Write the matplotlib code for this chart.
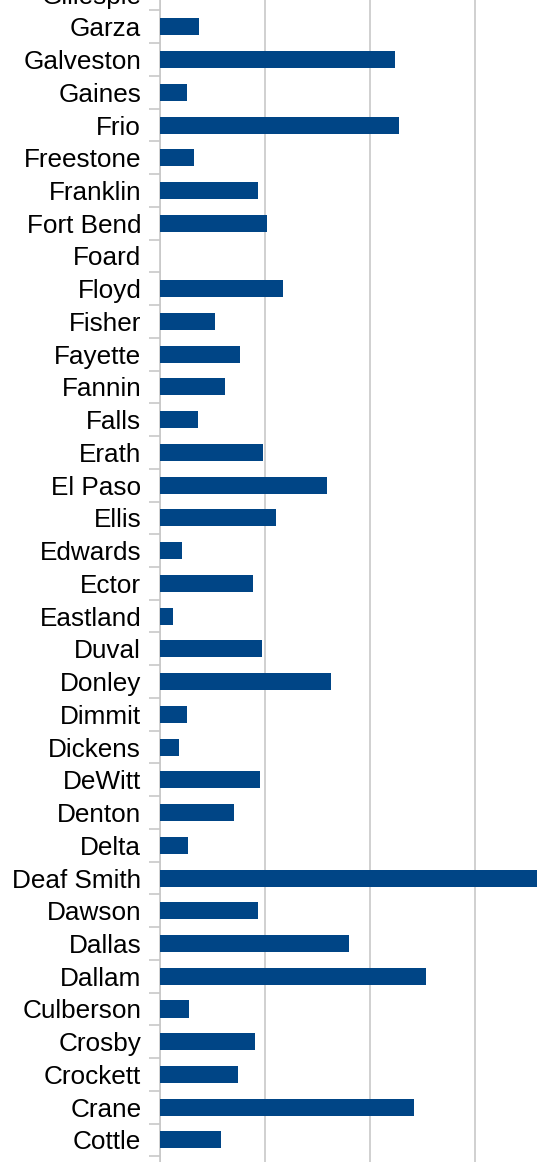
import matplotlib

matplotlib.use("Agg")
import matplotlib.pyplot as plt

# counties from bottom (Coryell, cut off) to top (Gillespie, cut off)
COUNTIES = ["Coryell", "Cottle", "Crane", "Crockett", "Crosby", "Culberson",
            "Dallam", "Dallas", "Dawson", "Deaf Smith", "Delta", "Denton",
            "DeWitt", "Dickens", "Dimmit", "Donley", "Duval", "Eastland",
            "Ector", "Edwards", "Ellis", "El Paso", "Erath", "Falls",
            "Fannin", "Fayette", "Fisher", "Floyd", "Foard", "Fort Bend",
            "Franklin", "Freestone", "Frio", "Gaines", "Galveston", "Garza",
            "Gillespie"]
VALUES = [0, 5.8, 24.2, 7.4, 9.0, 2.8,
          25.3, 18.0, 9.3, 37.0, 2.7, 7.0,
          9.5, 1.8, 2.6, 16.3, 9.7, 1.2,
          8.9, 2.1, 11.0, 15.9, 9.8, 3.6,
          6.2, 7.6, 5.2, 11.7, 0, 10.2,
          9.3, 3.2, 22.8, 2.6, 22.4, 3.7,
          0]

W, H = 537, 1162
BLUE = "#004586"
GRID = "#c8c8c8"

fig = plt.figure(figsize=(W / 100, H / 100), dpi=100)
n = len(COUNTIES)
step = 32.74
y0 = 1172.7  # pixel centre of first row
bottom_px = y0 + step * 0.5
top_px = y0 - step * (n - 0.5)
ax = fig.add_axes([160 / W, (H - bottom_px) / H, 420 / W, (bottom_px - top_px) / H])

ax.barh(range(n), VALUES, height=0.52, color=BLUE, zorder=3)
ax.set_xlim(0, 40)
ax.set_ylim(-0.5, n - 0.5)
ax.set_xticks([0, 10, 20, 30, 40])
ax.xaxis.grid(True, color=GRID, lw=1.2, zorder=0)
ax.tick_params(axis="x", length=0, labelbottom=False)

ax.set_yticks(range(n))
ax.set_yticklabels(COUNTIES, fontsize=18.8, family="Liberation Sans")
ax.set_yticks([i + 0.5 for i in range(-1, n)], minor=True)
ax.tick_params(axis="y", which="major", length=0, pad=13.5)
ax.tick_params(axis="y", which="minor", length=8, color=GRID, width=1.2)

for s in ["top", "right", "bottom"]:
    ax.spines[s].set_visible(False)
ax.spines["left"].set_color(GRID)
ax.spines["left"].set_linewidth(1.2)

fig.savefig("out.png", dpi=100)
